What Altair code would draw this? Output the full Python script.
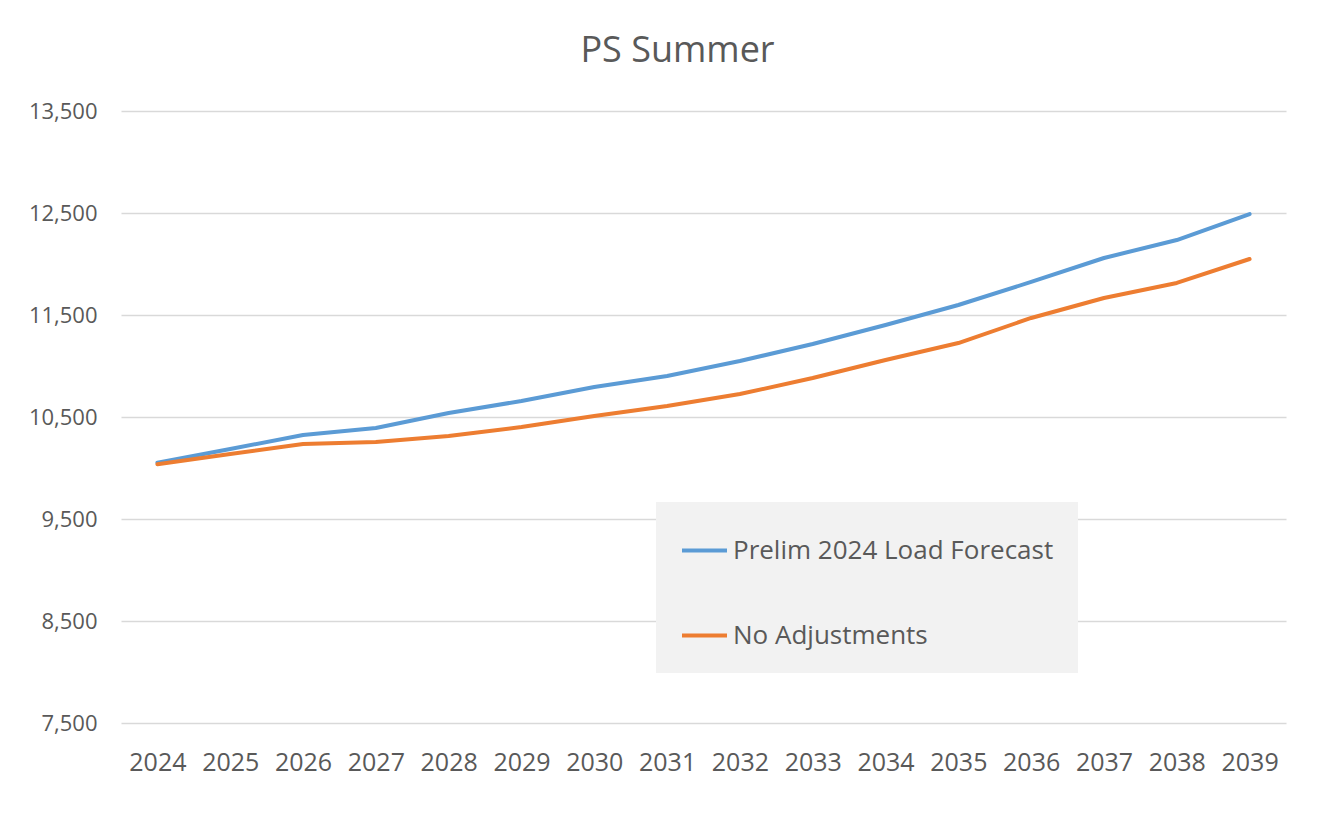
import altair as alt
import pandas as pd

years = ["2024", "2025", "2026", "2027", "2028", "2029", "2030", "2031",
         "2032", "2033", "2034", "2035", "2036", "2037", "2038", "2039"]
prelim = [10052, 10186, 10324, 10392, 10539, 10657, 10794, 10902,
          11049, 11216, 11402, 11598, 11824, 12059, 12235, 12490]
no_adj = [10036, 10137, 10235, 10255, 10314, 10402, 10510, 10608,
          10725, 10882, 11059, 11225, 11471, 11667, 11814, 12049]
series_names = ["Prelim 2024 Load Forecast", "No Adjustments"]
series_colors = ["#5B9BD5", "#ED7D31"]
y_ticks = [7500, 8500, 9500, 10500, 11500, 12500, 13500]

rows = []
for name, vals in zip(series_names, [prelim, no_adj]):
    for yr, v in zip(years, vals):
        rows.append({"Year": yr, "Value": v, "Series": name})
df = pd.DataFrame(rows)

FONT = "Open Sans"
GRAY = "#595959"

chart = alt.Chart(df).mark_line(strokeWidth=4, strokeCap="round", strokeJoin="round").encode(
    x=alt.X("Year:O", sort=years,
            axis=alt.Axis(title=None, labelAngle=0, domain=False, ticks=False, grid=False,
                          labelFontSize=25, labelColor=GRAY, labelFont=FONT, labelPadding=27)),
    y=alt.Y("Value:Q", scale=alt.Scale(domain=[7500, 13500], nice=False, zero=False),
            axis=alt.Axis(title=None, values=y_ticks, format=",.0f", domain=False, ticks=False,
                          gridColor="#d9d9d9", gridWidth=1.5,
                          labelFontSize=22, labelColor=GRAY, labelFont=FONT, labelPadding=24)),
    color=alt.Color("Series:N", scale=alt.Scale(domain=series_names, range=series_colors),
                    legend=alt.Legend(title=None, orient="none", legendX=535, legendY=391,
                                      fillColor="#f2f2f2", padding=24, rowPadding=47,
                                      symbolType="stroke", symbolSize=2025, symbolStrokeWidth=4,
                                      labelFontSize=26, labelColor=GRAY, labelFont=FONT,
                                      labelOffset=4, labelLimit=500)),
).properties(
    width=1165,
    height=612,
    background="white",
    title=alt.TitleParams("PS Summer", fontSize=36, font=FONT, color=GRAY, fontWeight="normal",
                          anchor="middle", dx=-26, offset=30),
    autosize=alt.AutoSizeParams(type="none"),
    padding={"left": 113, "top": 103, "right": 30, "bottom": 80},
).configure_view(strokeWidth=0)

chart.save("out.html", embed_options={"renderer": "svg", "actions": False})
